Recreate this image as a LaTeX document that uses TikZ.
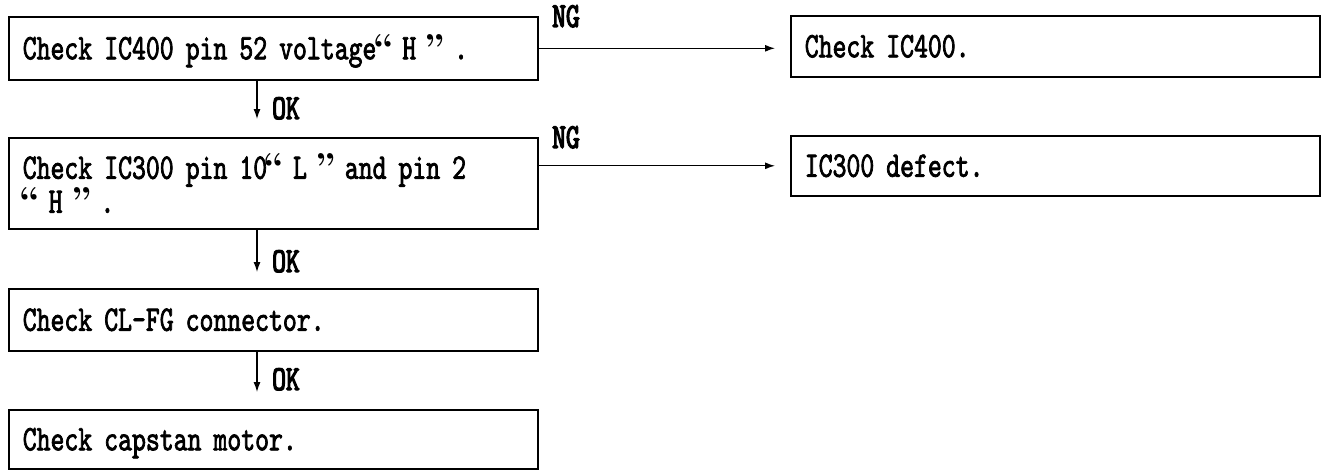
\documentclass[tikz,border=0pt]{standalone}
\usepackage{fontspec}
\usetikzlibrary{arrows.meta}
\newfontfamily\tfont{lmmono10-regular.otf}[FakeStretch=0.735,FakeBold=2]
\newfontfamily\lfont{lmmono10-regular.otf}[FakeStretch=0.75,FakeBold=3.5]
\newfontfamily\qfont{lmroman10-bold.otf}
\newcommand\myoq{\leavevmode\hbox to 13.9pt{\hss\qfont “\hss}}
\newcommand\mycq{\leavevmode\hbox to 13.9pt{\hss\qfont ”\hss}}
\begin{document}
\begin{tikzpicture}[x=1pt,y=-1pt,
  box/.style={draw, line width=1.6pt, anchor=north west, minimum width=529pt,
    text width=501pt, inner xsep=14pt, inner ysep=0pt, align=left,
    font=\tfont\fontsize{36pt}{29pt}\selectfont},
  oneline/.style={text height=22pt, text depth=0pt},
  arr/.style={line width=1.2pt, -{Latex[length=10pt,width=7pt]}},
  lab/.style={font=\lfont\fontsize{35pt}{35pt}\selectfont, inner sep=0pt, text height=20pt, text depth=0pt}]
\path[use as bounding box] (0,0) rectangle (1323,471);

\node[box, oneline, minimum height=63pt] (b1) at (8,16) {Check IC400 pin 52 voltage\myoq{} H \mycq{} .};
\node[box, minimum height=91pt] (b2) at (8,137) {Check IC300 pin 10\myoq{} L \mycq{} and pin 2\\\myoq{} H \mycq{} .};
\node[box, oneline, minimum height=62pt] (b3) at (8,288) {Check CL-FG connector.};
\node[box, oneline, minimum height=59pt] (b4) at (8,409) {Check capstan motor.};
\node[box, oneline, minimum height=61pt] (r1) at (790,15) {Check IC400.};
\node[box, oneline, minimum height=60pt] (r2) at (790,135) {IC300 defect.};

\coordinate (ax) at (257,0);
\draw[arr, shorten >=15pt] (b1.east) -- (b1.east -| r1.west);
\draw[arr, shorten >=15pt] (b2.east |- r2.west) -- (r2.west);
\draw[arr, shorten >=18pt] (b1.south -| ax) -- (b2.north -| ax);
\draw[arr, shorten >=16pt] (b2.south -| ax) -- (b3.north -| ax);
\draw[arr, shorten >=17pt] (b3.south -| ax) -- (b4.north -| ax);

\node[lab, anchor=west] (ng1) at (552,17) {NG};
\node[lab, anchor=west] (ng2) at (552,138) {NG};
\node[lab, anchor=west] (ok1) at (272,109) {OK};
\node[lab, anchor=west] (ok2) at (272,262) {OK};
\node[lab, anchor=west] (ok3) at (272,380) {OK};
\end{tikzpicture}
\end{document}
